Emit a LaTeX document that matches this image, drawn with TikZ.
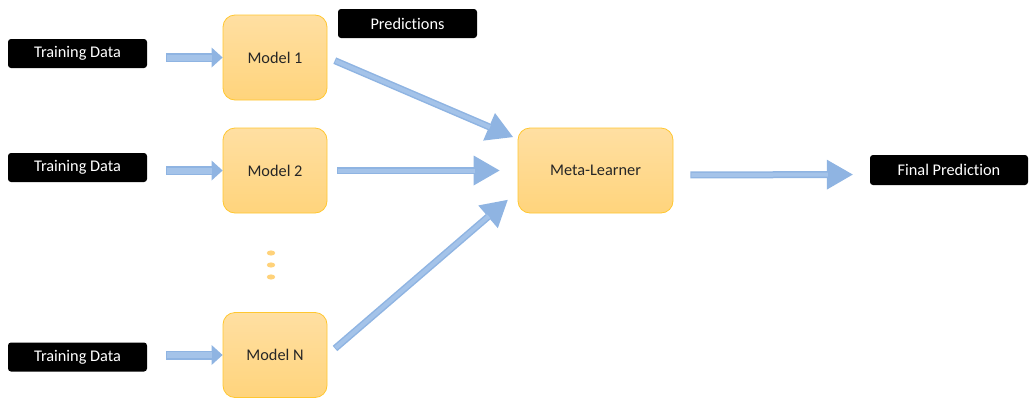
\documentclass[tikz,border=0pt]{standalone}
\usepackage{fontspec}
\setmainfont{Carlito}[Ligatures=NoCommon]
\usetikzlibrary{arrows.meta,shapes.geometric}

\definecolor{flowblue}{HTML}{8FB4E2}
\definecolor{flowlight}{HTML}{A4C3E9}
\definecolor{boxtop}{HTML}{FFDFA2}
\definecolor{boxbottom}{HTML}{FFD47C}
\definecolor{boxedge}{HTML}{FFC730}
\definecolor{dotfill}{HTML}{FFD27A}
\definecolor{modeltext}{HTML}{262626}

\tikzset{
  label/.style={fill=black, rounded corners=3pt, text=white,
    minimum width=139pt, minimum height=29pt, inner sep=0pt,
    font=\fontsize{16.3}{19}\selectfont},
  model/.style={rounded corners=12pt, draw=boxedge, line width=0.8pt,
    top color=boxtop, bottom color=boxbottom, text=modeltext,
    minimum width=104pt, minimum height=85pt, inner sep=0pt,
    font=\fontsize{16.3}{19}\selectfont},
  % short block arrow: darker rim, lighter shaft core
  feed/.style={draw=flowblue, line width=9pt, shorten <=19pt,
    -{Triangle[length=11pt,width=20pt,line width=0pt]},
    postaction={draw=flowlight, line width=6pt, -, shorten <=20pt, shorten >=11pt}},
  % long block arrow; #1 = gap at the tail, #2 = gap at the tip
  flow/.style n args={2}{draw=flowblue, line width=7pt,
    shorten <=#1, shorten >=#2,
    -{Triangle[length=26pt,width=30pt,line width=0pt]},
    postaction={draw=flowlight, line width=4pt, -,
      shorten <=#1+1pt, shorten >=#2+25pt}}
}

\begin{document}
\begin{tikzpicture}[x=1pt, y=-1pt]
  \useasboundingbox (0,0) rectangle (1029,402);

  % inputs
  \node[label] (td1) at (77.5,53.5) {Training Data};
  \node[label] (td2) at (77.5,167.5) {Training Data};
  \node[label] (td3) at (77.5,357) {Training Data};

  % base models
  \node[model] (m1) at (275,57.5) {Model 1};
  \node[model] (m2) at (275,170.5) {Model 2};
  \node[model] (mN) at (275,355) {Model N};

  % ellipsis between model 2 and model N
  \foreach \yy in {253,265,277}
    \fill[dotfill] (271,\yy) ellipse (4.2pt and 2.6pt);

  % outputs
  \node[label] (pred) at (407.5,23.5) {Predictions};
  \node[model, minimum width=155pt] (meta) at (595.5,170.5) {Meta-Learner};
  \node[label, minimum width=158pt, minimum height=30pt] (final) at (949,170) {Final Prediction};

  % training data into the models
  \draw[feed] (td1.east |- m1.west) -- (m1.west);
  \draw[feed] (td2.east |- m2.west) -- (m2.west);
  \draw[feed] (td3.east |- mN.west) -- (mN.west);

  % predictions into the meta-learner
  \draw[flow={8pt}{5pt}] (m1.east) -- (meta.158);
  \draw[flow={10pt}{18pt}] (m2.east) -- (meta.west);
  \draw[flow={10pt}{13pt}] (mN.east) -- (meta.195);

  % meta-learner to the final prediction
  \draw[flow={17pt}{17pt}]
    ([yshift=-4.5pt]meta.east) -- ([yshift=-4.5pt]final.west);
\end{tikzpicture}
\end{document}
